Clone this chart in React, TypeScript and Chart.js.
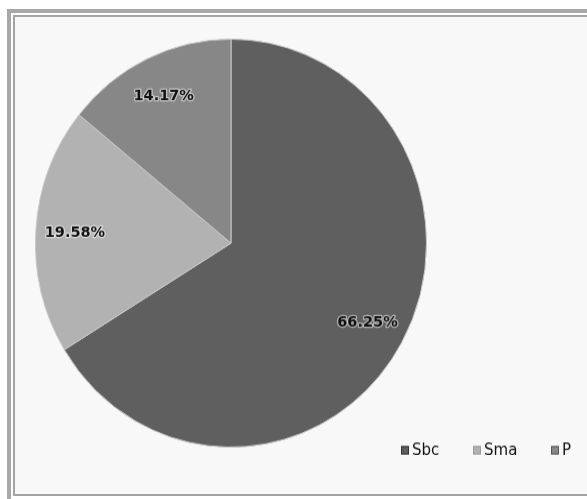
import React, { useEffect, useRef } from "react";
import { Chart, registerables } from "chart.js";

Chart.register(...registerables);

const categories = ["Sbc", "Sma", "P"];
const values = [66.25, 19.58, 14.17];
const valueLabels = ["66.25%", "19.58%", "14.17%"];
const colors = ["#5f5f5f", "#b2b2b2", "#878787"];
const legendBorders = ["#333333", "#999999", "#555555"];

const SCALE_Y = 1.0434;

const labelPlugin = {
  id: "sliceLabels",
  afterDatasetsDraw(chart: any) {
    const ctx = chart.ctx;
    const meta = chart.getDatasetMeta(0);
    ctx.save();
    ctx.font = "bold 14.5px 'DejaVu Sans', sans-serif";
    ctx.textAlign = "center";
    ctx.textBaseline = "middle";
    meta.data.forEach((arc: any, i: number) => {
      const mid = (arc.startAngle + arc.endAngle) / 2;
      const r = arc.outerRadius * 0.8;
      const x = arc.x + Math.cos(mid) * r;
      const y = arc.y + Math.sin(mid) * r;
      ctx.lineWidth = 2.5;
      ctx.strokeStyle = "rgba(255,255,255,0.5)";
      ctx.lineJoin = "round";
      ctx.strokeText(valueLabels[i], x, y);
      ctx.fillStyle = "#111111";
      ctx.fillText(valueLabels[i], x, y);
    });
    ctx.restore();
  },
};

const legendPlugin = {
  id: "customLegend",
  afterDraw(chart: any) {
    const ctx = chart.ctx;
    const xs = [401, 473, 551];
    const y = 431.5;
    ctx.save();
    ctx.font = "15px 'DejaVu Sans', sans-serif";
    ctx.textBaseline = "middle";
    ctx.textAlign = "left";
    categories.forEach((c, i) => {
      ctx.fillStyle = colors[i];
      ctx.fillRect(xs[i], y - 4, 8, 8);
      ctx.strokeStyle = legendBorders[i];
      ctx.lineWidth = 1;
      ctx.strokeRect(xs[i] + 0.5, y - 3.5, 7, 7);
      ctx.fillStyle = "#111111";
      ctx.fillText(c, xs[i] + 11, y + 1);
    });
    ctx.restore();
  },
};

export default function App() {
  const ref = useRef<HTMLCanvasElement>(null);
  useEffect(() => {
    document.body.style.margin = "0";
    const chart = new Chart(ref.current!, {
      type: "pie",
      data: {
        labels: categories,
        datasets: [
          {
            data: values,
            backgroundColor: colors,
            borderColor: "#c8c8c8",
            borderWidth: 1,
          },
        ],
      },
      options: {
        animation: false,
        responsive: false,
        layout: { padding: { left: 35, right: 160, top: 37, bottom: 49 } },
        plugins: {
          legend: { display: false },
          tooltip: { enabled: false },
        },
      },
      plugins: [labelPlugin, legendPlugin],
    });
    return () => chart.destroy();
  }, []);
  return (
    <div style={{ position: "relative", width: 587, height: 499, background: "#ffffff", overflow: "hidden" }}>
      <div
        style={{
          position: "absolute",
          left: 7,
          top: 9,
          width: 600,
          height: 520,
          border: "4px solid #a8a8a8",
          boxSizing: "border-box",
        }}
      />
      <div
        style={{
          position: "absolute",
          left: 13,
          top: 15,
          width: 600,
          height: 481,
          border: "2px solid #a4a4a4",
          background: "#f8f8f8",
          boxSizing: "border-box",
        }}
      />
      <canvas
        ref={ref}
        width={587}
        height={478}
        style={{
          position: "absolute",
          left: 0,
          top: 0,
          transform: `scaleY(${SCALE_Y})`,
          transformOrigin: "0 0",
        }}
      />
    </div>
  );
}
